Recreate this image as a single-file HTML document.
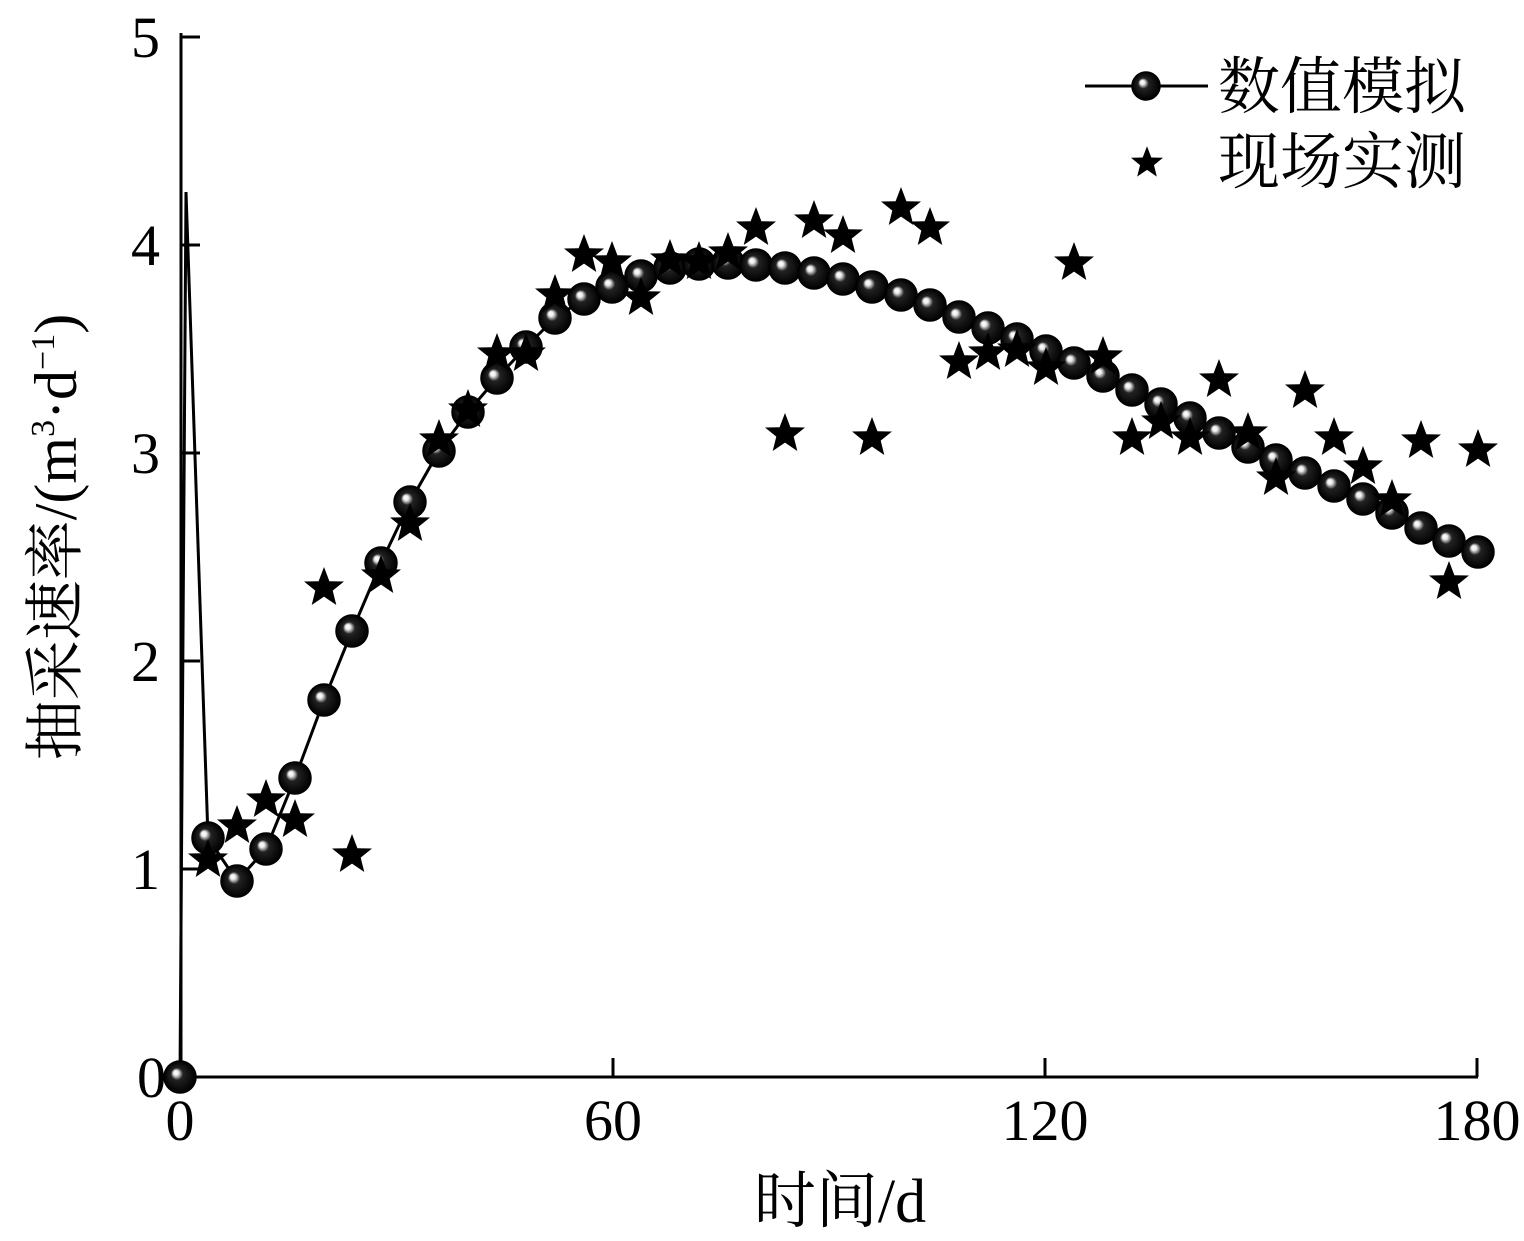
<!DOCTYPE html>
<html><head><meta charset="utf-8"><style>
html,body{margin:0;padding:0;background:#fff;}
svg{display:block}
</style></head><body>
<svg width="1524" height="1241" viewBox="0 0 1524 1241" xmlns="http://www.w3.org/2000/svg">
<defs>
<radialGradient id="g" cx="0.5" cy="0.5" r="0.5" fx="0.35" fy="0.35">
<stop offset="0" stop-color="#fff"/><stop offset="0.15" stop-color="#eee"/><stop offset="0.25" stop-color="#999"/><stop offset="0.38" stop-color="#222"/><stop offset="1" stop-color="#000"/>
</radialGradient>
<g id="c"><circle r="16" fill="url(#g)" stroke="#000" stroke-width="1.5"/></g>
<polygon id="s" fill="#000" points="0,-21 5.4,-6.8 20,-6.5 8.7,2.6 12.3,17 0,8.6 -12.3,17 -8.7,2.6 -20,-6.5 -5.4,-6.8"/>
</defs>
<g stroke="#000" stroke-width="3" fill="none">
<line x1="181" y1="33" x2="181" y2="1078"/>
<line x1="180" y1="1077" x2="1478" y2="1077"/>
<line x1="181" y1="37" x2="200" y2="37"/>
<line x1="181" y1="245" x2="200" y2="245"/>
<line x1="181" y1="453" x2="200" y2="453"/>
<line x1="181" y1="661" x2="200" y2="661"/>
<line x1="181" y1="869" x2="200" y2="869"/>
<line x1="613" y1="1077" x2="613" y2="1058"/>
<line x1="1045" y1="1077" x2="1045" y2="1058"/>
<line x1="1477" y1="1077" x2="1477" y2="1058"/>
</g>
<g font-family="Liberation Serif, serif" font-size="58" fill="#000">
<text x="160" y="57" text-anchor="end">5</text>
<text x="160" y="265" text-anchor="end">4</text>
<text x="160" y="473" text-anchor="end">3</text>
<text x="160" y="681" text-anchor="end">2</text>
<text x="160" y="889" text-anchor="end">1</text>
<text x="166" y="1097" text-anchor="end">0</text>
<text x="180" y="1140" text-anchor="middle">0</text>
<text x="613" y="1140" text-anchor="middle">60</text>
<text x="1045" y="1140" text-anchor="middle">120</text>
<text x="1477" y="1140" text-anchor="middle">180</text>
</g>
<text x="840" y="1222" text-anchor="middle" font-family="Liberation Serif, 'Noto Serif CJK SC', serif" font-size="62">时间/d</text>
<text transform="translate(76,537) rotate(-90)" text-anchor="middle" font-family="Liberation Serif, 'Noto Serif CJK SC', serif" font-size="60">抽采速率/(m<tspan font-size="34" dy="-22">3</tspan><tspan dy="22">·d</tspan><tspan font-size="34" dy="-22">−1</tspan><tspan dy="22">)</tspan></text>
<polyline fill="none" stroke="#000" stroke-width="3" points="180,1077 186,192 208,838 237,881 266,849 295,778 324,700 352,631 381,563 410,502 439,451 468,412 497,378 526,347 555,318 584,299 612,287 641,276 670,268 699,264 728,263 756,265 785,268 814,273 843,279 872,287 901,295 930,305 959,317 988,328 1017,339 1046,351 1074,363 1103,376 1132,390 1161,404 1190,418 1219,433 1248,447 1276,460 1305,473 1334,486 1363,499 1392,513 1421,528 1449,541 1478,552"/>
<g>
<use href="#c" x="180" y="1077"/><use href="#c" x="208" y="838"/><use href="#c" x="237" y="881"/><use href="#c" x="266" y="849"/><use href="#c" x="295" y="778"/><use href="#c" x="324" y="700"/><use href="#c" x="352" y="631"/><use href="#c" x="381" y="563"/><use href="#c" x="410" y="502"/><use href="#c" x="439" y="451"/><use href="#c" x="468" y="412"/><use href="#c" x="497" y="378"/><use href="#c" x="526" y="347"/><use href="#c" x="555" y="318"/><use href="#c" x="584" y="299"/><use href="#c" x="612" y="287"/><use href="#c" x="641" y="276"/><use href="#c" x="670" y="268"/><use href="#c" x="699" y="264"/><use href="#c" x="728" y="263"/><use href="#c" x="756" y="265"/><use href="#c" x="785" y="268"/><use href="#c" x="814" y="273"/><use href="#c" x="843" y="279"/><use href="#c" x="872" y="287"/><use href="#c" x="901" y="295"/><use href="#c" x="930" y="305"/><use href="#c" x="959" y="317"/><use href="#c" x="988" y="328"/><use href="#c" x="1017" y="339"/><use href="#c" x="1046" y="351"/><use href="#c" x="1074" y="363"/><use href="#c" x="1103" y="376"/><use href="#c" x="1132" y="390"/><use href="#c" x="1161" y="404"/><use href="#c" x="1190" y="418"/><use href="#c" x="1219" y="433"/><use href="#c" x="1248" y="447"/><use href="#c" x="1276" y="460"/><use href="#c" x="1305" y="473"/><use href="#c" x="1334" y="486"/><use href="#c" x="1363" y="499"/><use href="#c" x="1392" y="513"/><use href="#c" x="1421" y="528"/><use href="#c" x="1449" y="541"/><use href="#c" x="1478" y="552"/>
</g>
<g>
<use href="#s" x="208" y="860"/><use href="#s" x="237" y="826"/><use href="#s" x="266" y="800"/><use href="#s" x="295" y="820"/><use href="#s" x="324" y="588"/><use href="#s" x="352" y="855"/><use href="#s" x="381" y="576"/><use href="#s" x="410" y="524"/><use href="#s" x="439" y="440"/><use href="#s" x="468" y="410"/><use href="#s" x="497" y="354"/><use href="#s" x="526" y="354"/><use href="#s" x="555" y="295"/><use href="#s" x="584" y="255"/><use href="#s" x="612" y="262"/><use href="#s" x="641" y="298"/><use href="#s" x="670" y="260"/><use href="#s" x="699" y="262"/><use href="#s" x="728" y="253"/><use href="#s" x="756" y="228"/><use href="#s" x="785" y="434"/><use href="#s" x="814" y="221"/><use href="#s" x="843" y="236"/><use href="#s" x="872" y="438"/><use href="#s" x="901" y="208"/><use href="#s" x="930" y="228"/><use href="#s" x="959" y="362"/><use href="#s" x="988" y="353"/><use href="#s" x="1017" y="350"/><use href="#s" x="1046" y="368"/><use href="#s" x="1074" y="263"/><use href="#s" x="1103" y="357"/><use href="#s" x="1132" y="438"/><use href="#s" x="1161" y="422"/><use href="#s" x="1190" y="438"/><use href="#s" x="1219" y="380"/><use href="#s" x="1248" y="433"/><use href="#s" x="1276" y="478"/><use href="#s" x="1305" y="391"/><use href="#s" x="1334" y="438"/><use href="#s" x="1363" y="467"/><use href="#s" x="1392" y="500"/><use href="#s" x="1421" y="441"/><use href="#s" x="1449" y="582"/><use href="#s" x="1478" y="450"/>
</g>
<line x1="1085" y1="86" x2="1208" y2="86" stroke="#000" stroke-width="3"/>
<circle cx="1146" cy="86" r="14" fill="url(#g)" stroke="#000" stroke-width="1.5"/>
<use href="#s" x="1147" y="163" transform="translate(1147,163) scale(0.8) translate(-1147,-163)"/>
<g font-family="Liberation Serif, 'Noto Serif CJK SC', serif" font-size="62" fill="#000">
<text x="1218" y="108">数值模拟</text>
<text x="1218" y="183">现场实测</text>
</g>
</svg>
</body></html>
